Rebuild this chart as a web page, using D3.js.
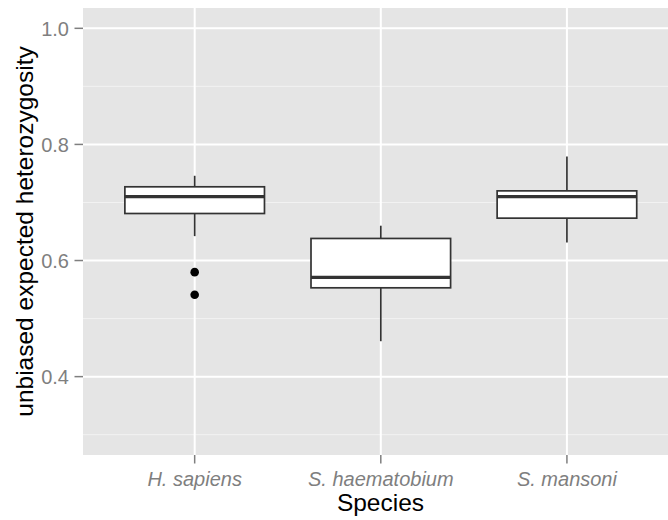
<!DOCTYPE html>
<html>
<head>
<meta charset="utf-8">
<script src="https://cdn.jsdelivr.net/npm/d3@7"></script>
<style>
  html, body { margin: 0; padding: 0; background: #fff; }
  svg { display: block; font-family: "Liberation Sans", Arial, Helvetica, sans-serif; }
</style>
</head>
<body>
<svg id="chart" width="668" height="520"></svg>
<script>
// Per-species box statistics for unbiased expected heterozygosity
const species = ["H. sapiens", "S. haematobium", "S. mansoni"];
const whiskerLow = [0.642, 0.461, 0.631];
const quartile1 = [0.681, 0.553, 0.673];
const medians = [0.710, 0.571, 0.710];
const quartile3 = [0.727, 0.638, 0.720];
const whiskerHigh = [0.746, 0.660, 0.779];
const outliers = [[0.580, 0.541], [], []];
const yTicks = [0.4, 0.6, 0.8, 1.0];
const yMinor = [0.3, 0.5, 0.7, 0.9];

const svg = d3.select("#chart");
const panel = { left: 83, top: 8, right: 678.6, bottom: 455 };

// discrete axis: positions 1..3 expanded by 0.6 on both sides
const x = d3.scaleLinear().domain([0.4, 3.6]).range([panel.left, panel.right]);
const y = d3.scaleLinear().domain([0.265, 1.035]).range([panel.bottom, panel.top]);
const boxWidth = 0.75;

svg.append("rect")
  .attr("x", panel.left).attr("y", panel.top)
  .attr("width", panel.right - panel.left).attr("height", panel.bottom - panel.top)
  .attr("fill", "#E5E5E5");

const grid = svg.append("g");
grid.selectAll("line.minor").data(yMinor).join("line")
  .attr("x1", panel.left).attr("x2", panel.right)
  .attr("y1", d => y(d)).attr("y2", d => y(d))
  .attr("stroke", "#F2F2F2").attr("stroke-width", 1);
grid.selectAll("line.major").data(yTicks).join("line")
  .attr("x1", panel.left).attr("x2", panel.right)
  .attr("y1", d => y(d)).attr("y2", d => y(d))
  .attr("stroke", "#FFFFFF").attr("stroke-width", 2);
grid.selectAll("line.vmajor").data(species).join("line")
  .attr("x1", (d, i) => x(i + 1)).attr("x2", (d, i) => x(i + 1))
  .attr("y1", panel.top).attr("y2", panel.bottom)
  .attr("stroke", "#FFFFFF").attr("stroke-width", 2);

// boxes
const boxes = svg.append("g").selectAll("g").data(species).join("g");
boxes.append("line")
  .attr("x1", (d, i) => x(i + 1)).attr("x2", (d, i) => x(i + 1))
  .attr("y1", (d, i) => y(whiskerHigh[i])).attr("y2", (d, i) => y(quartile3[i]))
  .attr("stroke", "#333333").attr("stroke-width", 1.7);
boxes.append("line")
  .attr("x1", (d, i) => x(i + 1)).attr("x2", (d, i) => x(i + 1))
  .attr("y1", (d, i) => y(quartile1[i])).attr("y2", (d, i) => y(whiskerLow[i]))
  .attr("stroke", "#333333").attr("stroke-width", 1.7);
boxes.append("rect")
  .attr("x", (d, i) => x(i + 1 - boxWidth / 2))
  .attr("width", x(1 + boxWidth / 2) - x(1 - boxWidth / 2))
  .attr("y", (d, i) => y(quartile3[i]))
  .attr("height", (d, i) => y(quartile1[i]) - y(quartile3[i]))
  .attr("fill", "#FFFFFF").attr("stroke", "#333333").attr("stroke-width", 1.7);
boxes.append("line")
  .attr("x1", (d, i) => x(i + 1 - boxWidth / 2)).attr("x2", (d, i) => x(i + 1 + boxWidth / 2))
  .attr("y1", (d, i) => y(medians[i])).attr("y2", (d, i) => y(medians[i]))
  .attr("stroke", "#333333").attr("stroke-width", 3.4);
boxes.each(function (d, i) {
  d3.select(this).selectAll("circle").data(outliers[i]).join("circle")
    .attr("cx", x(i + 1)).attr("cy", v => y(v)).attr("r", 4.3)
    .attr("fill", "#000000");
});

// y axis
const yAxis = svg.append("g");
yAxis.selectAll("line").data(yTicks).join("line")
  .attr("x1", panel.left - 8.5).attr("x2", panel.left)
  .attr("y1", d => y(d)).attr("y2", d => y(d))
  .attr("stroke", "#7F7F7F").attr("stroke-width", 1.5);
yAxis.selectAll("text").data(yTicks).join("text")
  .attr("x", panel.left - 14).attr("y", d => y(d))
  .attr("dy", "0.36em").attr("text-anchor", "end")
  .attr("font-size", 20).attr("fill", "#7F7F7F")
  .text(d => d3.format(".1f")(d));

// x axis
const xAxis = svg.append("g");
xAxis.selectAll("line").data(species).join("line")
  .attr("x1", (d, i) => x(i + 1)).attr("x2", (d, i) => x(i + 1))
  .attr("y1", panel.bottom).attr("y2", panel.bottom + 8.5)
  .attr("stroke", "#7F7F7F").attr("stroke-width", 1.5);
xAxis.selectAll("text").data(species).join("text")
  .attr("x", (d, i) => x(i + 1)).attr("y", 485.5)
  .attr("text-anchor", "middle").attr("font-size", 20)
  .attr("font-style", "italic").attr("fill", "#7F7F7F")
  .text(d => d);

// axis titles
svg.append("text")
  .attr("x", (panel.left + 668) / 2 + 5).attr("y", 511)
  .attr("text-anchor", "middle").attr("font-size", 24.5).attr("fill", "#000")
  .text("Species");
svg.append("text")
  .attr("transform", `translate(33,${(panel.top + panel.bottom) / 2}) rotate(-90)`)
  .attr("text-anchor", "middle").attr("font-size", 24.5).attr("fill", "#000")
  .text("unbiased expected heterozygosity");
</script>
</body>
</html>
